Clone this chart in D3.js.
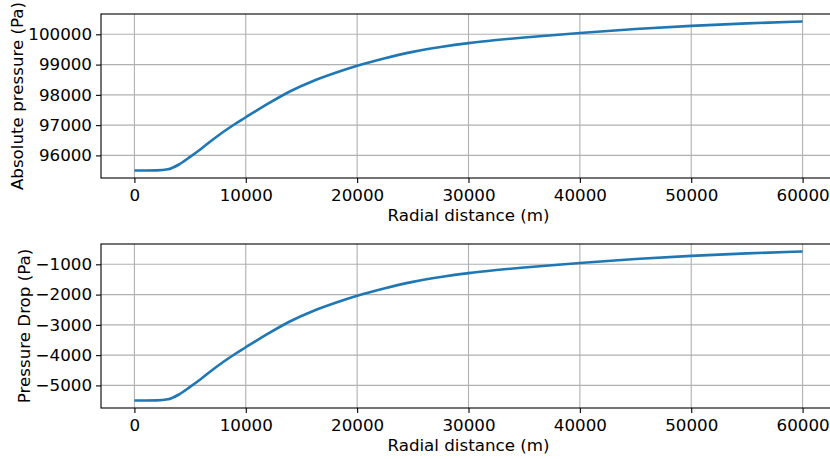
<!DOCTYPE html>
<html>
<head>
<meta charset="utf-8">
<script src="https://cdn.jsdelivr.net/npm/d3@7"></script>
<style>
  html, body { margin: 0; padding: 0; background: #fff; }
  svg { display: block; overflow: hidden; }
  text { font-family: "DejaVu Sans", sans-serif; fill: #000; }
</style>
</head>
<body>
<div id="root"></div>
<script>
// radial distance (m) and pressures (Pa)
const radialDistance = [0, 1000, 2000, 3000, 4000, 5000, 6000, 7000, 8000, 9000, 10000,
  11000, 12000, 14000, 16000, 18000, 20000, 22500, 25000, 27500, 30000, 32500, 35000,
  40000, 45000, 50000, 55000, 60000];
const absolutePressure = [95500, 95500, 95505, 95540, 95700, 95950, 96220, 96510, 96780,
  97030, 97260, 97490, 97710, 98120, 98450, 98720, 98960, 99210, 99420, 99580, 99710,
  99810, 99895, 100045, 100175, 100280, 100360, 100425];
const pressureDrop = [-5500, -5500, -5495, -5460, -5300, -5050, -4780, -4490, -4220,
  -3970, -3740, -3510, -3290, -2880, -2550, -2280, -2040, -1790, -1580, -1420, -1290,
  -1190, -1105, -955, -825, -720, -640, -575];

const xTicks = [0, 10000, 20000, 30000, 40000, 50000, 60000];
const absTicks = [96000, 97000, 98000, 99000, 100000];
const dropTicks = [-5000, -4000, -3000, -2000, -1000];

const width = 830;
const height = 459;
const marginLeft = 101;
const plotRight = 836;
const lineColor = '#1f77b4';
const fontSize = '16.7px';

const svg = d3.select('#root')
  .append('svg')
  .attr('width', width)
  .attr('height', height);

function pad(extent) {
  const span = extent[1] - extent[0];
  return [extent[0] - span * 0.05, extent[1] + span * 0.05];
}

function panel(values, yTicks, yLabel, top, bottom, labelX) {
  const x = d3.scaleLinear()
    .domain(pad(d3.extent(radialDistance)))
    .range([marginLeft, plotRight]);
  const y = d3.scaleLinear()
    .domain(pad(d3.extent(values)))
    .range([bottom, top]);

  const g = svg.append('g');

  // grid
  g.selectAll('.vgrid')
    .data(xTicks)
    .enter()
    .append('line')
    .attr('x1', (d) => x(d))
    .attr('x2', (d) => x(d))
    .attr('y1', top)
    .attr('y2', bottom)
    .style('stroke', '#b0b0b0')
    .style('stroke-width', '1.1px');

  g.selectAll('.hgrid')
    .data(yTicks)
    .enter()
    .append('line')
    .attr('x1', marginLeft)
    .attr('x2', plotRight)
    .attr('y1', (d) => y(d))
    .attr('y2', (d) => y(d))
    .style('stroke', '#b0b0b0')
    .style('stroke-width', '1.1px');

  const line = d3.line()
    .curve(d3.curveMonotoneX)
    .x((d, i) => x(radialDistance[i]))
    .y((d) => y(d));

  g.append('path')
    .datum(values)
    .attr('d', line)
    .style('fill', 'none')
    .style('stroke', lineColor)
    .style('stroke-width', '2.6px');

  // axes
  const xAxis = g.append('g')
    .attr('transform', `translate(0,${ bottom })`)
    .call(d3.axisBottom(x).tickValues(xTicks).tickFormat(d3.format('d'))
      .tickSizeInner(5).tickSizeOuter(0).tickPadding(5));
  const yAxis = g.append('g')
    .attr('transform', `translate(${ marginLeft },0)`)
    .call(d3.axisLeft(y).tickValues(yTicks).tickFormat(d3.format('d'))
      .tickSizeInner(5).tickSizeOuter(0).tickPadding(4));

  [xAxis, yAxis].forEach((a) => {
    a.attr('font-family', null).attr('font-size', null);
    a.select('.domain').remove();
    a.selectAll('line').style('stroke', '#000').style('stroke-width', '1.1px');
    a.selectAll('text').style('font-size', fontSize).style('fill', '#000');
  });
  xAxis.selectAll('text').attr('dy', '0.78em');

  g.append('rect')
    .attr('x', marginLeft)
    .attr('y', top)
    .attr('width', plotRight - marginLeft)
    .attr('height', bottom - top)
    .style('fill', 'none')
    .style('stroke', '#000')
    .style('stroke-width', '1.1px');

  g.append('text')
    .attr('x', (marginLeft + plotRight) / 2)
    .attr('y', bottom + 43)
    .attr('text-anchor', 'middle')
    .style('font-size', fontSize)
    .text('Radial distance (m)');

  g.append('text')
    .attr('transform', `translate(${ labelX },${ (top + bottom) / 2 }) rotate(-90)`)
    .attr('text-anchor', 'middle')
    .style('font-size', fontSize)
    .text(yLabel);
}

panel(absolutePressure, absTicks, 'Absolute pressure (Pa)', 14, 178, 23);
panel(pressureDrop, dropTicks, 'Pressure Drop (Pa)', 244, 408, 30);
</script>
</body>
</html>
